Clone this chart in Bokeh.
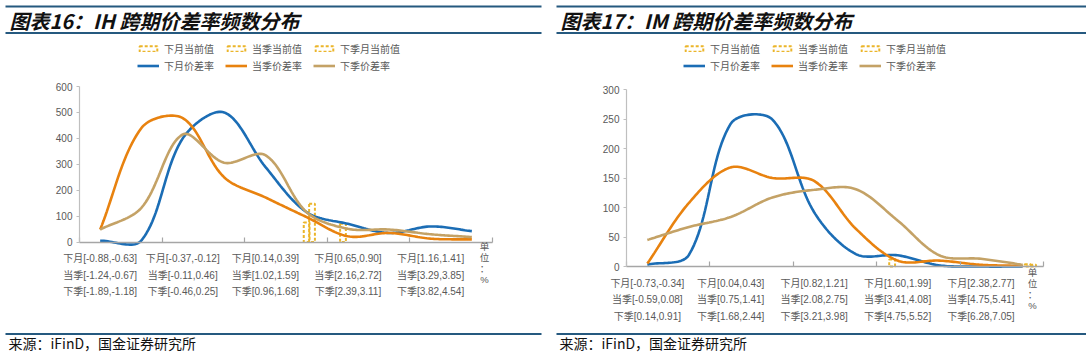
import numpy as np
from bokeh.plotting import figure
from bokeh.models import (Range1d, FixedTicker, Legend, LegendItem, Label, LinearAxis)
from bokeh.layouts import row
from bokeh.embed import file_html
from bokeh.resources import INLINE
from bokeh.core.properties import value

# ---------------- data ----------------
ih_title = "图表16：IH 跨期价差率频数分布"
im_title = "图表17：IM 跨期价差率频数分布"
source_text = "来源：iFinD，国金证券研究所"
unit_text = "单\n位\n：\n%"

series_names = ["下月价差率", "当季价差率", "下季价差率"]
current_names = ["下月当前值", "当季当前值", "下季月当前值"]

ih_tick_labels = [
    "下月[-0.88,-0.63]\n当季[-1.24,-0.67]\n下季[-1.89,-1.18]",
    "下月[-0.37,-0.12]\n当季[-0.11,0.46]\n下季[-0.46,0.25]",
    "下月[0.14,0.39]\n当季[1.02,1.59]\n下季[0.96,1.68]",
    "下月[0.65,0.90]\n当季[2.16,2.72]\n下季[2.39,3.11]",
    "下月[1.16,1.41]\n当季[3.29,3.85]\n下季[3.82,4.54]",
]
ih_next_month = [5, 6, 400, 500, 290, 115, 70, 35, 60, 42]
ih_cur_quarter = [48, 440, 478, 250, 172, 96, 22, 35, 13, 10]
ih_next_quarter = [48, 132, 415, 306, 335, 115, 51, 48, 30, 19]
ih_current_bin = [5.5, 5.63, 6.38]
ih_current_height = [75, 148, 70]
ih_yticks = [0, 100, 200, 300, 400, 500, 600]

im_tick_labels = [
    "下月[-0.73,-0.34]\n当季[-0.59,0.08]\n下季[0.14,0.91]",
    "下月[0.04,0.43]\n当季[0.75,1.41]\n下季[1.68,2.44]",
    "下月[0.82,1.21]\n当季[2.08,2.75]\n下季[3.21,3.98]",
    "下月[1.60,1.99]\n当季[3.41,4.08]\n下季[4.75,5.52]",
    "下月[2.38,2.77]\n当季[4.75,5.41]\n下季[6.28,7.05]",
]
im_next_month = [3, 20, 242, 249, 92, 21, 19, 2, 0, 0]
im_cur_quarter = [5, 108, 168, 150, 145, 64, 10, 10, 3, 1]
im_next_quarter = [45, 67, 84, 117, 130, 131, 78, 19, 13, 3]
im_current_bin = [6.37, 9.62, 9.75]
im_current_height = [12, 4, 3]
im_yticks = [0, 50, 100, 150, 200, 250, 300]

# ---------------- style ----------------
BLUE = "#1B6DB5"
ORANGE = "#E8820F"
TAN = "#C4A266"
YELLOW = "#EBB52A"
RULE = "#25597F"
GRAY = "#A6A6A6"
TXT = "#595959"
CJK = "Liberation Sans, Noto Sans CJK SC"
H = 355


def excel_smooth(xs, ys, sx, sy, n=24):
    pts = np.column_stack([np.asarray(xs, float) * sx, np.asarray(ys, float) * sy])
    out = [pts[0]]
    N = len(pts)
    for i in range(N - 1):
        p0 = pts[i - 1] if i > 0 else pts[i]
        p1 = pts[i]
        p2 = pts[i + 1]
        p3 = pts[i + 2] if i + 2 < N else pts[i + 1]
        d01 = np.linalg.norm(p1 - p0)
        d12 = np.linalg.norm(p2 - p1)
        d23 = np.linalg.norm(p3 - p2)
        f1 = d12 / (d01 + d12) if d01 + d12 > 0 else 0
        f2 = d12 / (d12 + d23) if d12 + d23 > 0 else 0
        c1 = p1 + (p2 - p0) * f1 / 3
        c2 = p2 - (p3 - p1) * f2 / 3
        t = np.linspace(0, 1, n)[1:, None]
        b = (1 - t) ** 3 * p1 + 3 * (1 - t) ** 2 * t * c1 + 3 * (1 - t) * t ** 2 * c2 + t ** 3 * p2
        out.extend(b)
    out = np.array(out)
    return out[:, 0] / sx, out[:, 1] / sy


def panel(W, title, title_x, rule_x0, rule_x1, tick_labels, lines, cur_bin, cur_h,
          yticks, frame_px, unit_px, legend_x):
    # frame_px: pixel box of the chart area (left, right, top, bottom)
    fl, fr, ft, fb = frame_px
    ymax = yticks[-1]
    sx = (fr - fl) / 10.0
    sy = (fb - ft) / float(ymax)
    X = lambda px: (px - fl) / sx
    Y = lambda py: (fb - py) / sy

    p = figure(width=W, height=H, x_range=Range1d(X(0), X(W)), y_range=Range1d(Y(H), Y(0)),
               min_border=0, toolbar_location=None, output_backend="svg",
               x_axis_type=None, y_axis_type=None, outline_line_color=None)
    p.grid.visible = False

    # header / footer decorations
    p.segment(x0=[X(rule_x0)] * 3, y0=[Y(6), Y(32.5), Y(333.5)],
              x1=[X(rule_x1)] * 3, y1=[Y(6), Y(32.5), Y(333.5)],
              line_color=RULE, line_width=2)
    p.text(x=[X(title_x)], y=[Y(20)], text=[title], text_baseline="middle",
           text_font=value("Noto Sans CJK SC"), text_font_size="20px",
           text_font_style="bold italic", text_color="#111111")
    p.text(x=[X(title_x - 1)], y=[Y(342.5)], text=[source_text], text_baseline="middle",
           text_font=value("Noto Sans CJK SC"), text_font_size="14px", text_color="#111111")

    xs = np.arange(10) + 0.5
    bars = []
    for i in range(3):
        r = p.vbar(x=[cur_bin[i]], top=[cur_h[i]], bottom=0, width=0.14,
                   fill_alpha=0, line_color=YELLOW, line_width=2, line_dash="3 2")
        bars.append(r)
    lrs = []
    for ys, col in zip(lines, [BLUE, ORANGE, TAN]):
        sxs, sys_ = excel_smooth(xs, ys, sx, sy)
        r = p.line(sxs, sys_, line_color=col, line_width=2.6)
        lrs.append(r)

    items = [LegendItem(label=current_names[i], renderers=[bars[i]]) for i in range(3)]
    items += [LegendItem(label=series_names[i], renderers=[lrs[i]]) for i in range(3)]
    leg = Legend(items=items, orientation="horizontal", ncols=3,
                 location=(legend_x, H - 73),
                 glyph_width=22, glyph_height=7, label_standoff=5, spacing=2,
                 label_width=59,
                 label_text_font=CJK, label_text_font_size="10px",
                 label_text_color=TXT, label_height=12, padding=0, margin=0,
                 background_fill_alpha=0, border_line_alpha=0)
    p.add_layout(leg, "center")

    xaxis = LinearAxis(ticker=FixedTicker(ticks=[0.5, 2.5, 4.5, 6.5, 8.5],
                                          minor_ticks=[0, 2, 4, 6, 8, 10]),
                       major_label_overrides={0.5: tick_labels[0], 2.5: tick_labels[1],
                                              4.5: tick_labels[2], 6.5: tick_labels[3],
                                              8.5: tick_labels[4]},
                       bounds=(0, 10), fixed_location=0,
                       axis_line_color=GRAY, axis_line_width=1.3,
                       major_tick_in=0, major_tick_out=0,
                       minor_tick_in=5, minor_tick_out=0, minor_tick_line_color=GRAY,
                       minor_tick_line_width=1.2,
                       major_label_text_font=CJK, major_label_text_font_size="10px",
                       major_label_text_color=TXT, major_label_text_line_height=1.5,
                       major_label_standoff=11)
    p.add_layout(xaxis, "below")
    yaxis = LinearAxis(ticker=FixedTicker(ticks=yticks, minor_ticks=[]),
                       bounds=(0, ymax), fixed_location=0,
                       axis_line_color="#BFBFBF", axis_line_width=1.2,
                       major_tick_in=0, major_tick_out=3, major_tick_line_color="#BFBFBF",
                       minor_tick_out=0, minor_tick_in=0,
                       major_label_text_font=CJK, major_label_text_font_size="10px",
                       major_label_text_color=TXT, major_label_standoff=4)
    p.add_layout(yaxis, "left")

    p.add_layout(Label(x=X(unit_px[0]), y=Y(unit_px[1]), text=unit_text, text_align="center",
                       text_baseline="top", text_font_size="9.5px",
                       text_font=CJK, text_color=TXT, text_line_height=1.0))
    return p


left = panel(545, ih_title, 9, 5, 541, ih_tick_labels,
             [ih_next_month, ih_cur_quarter, ih_next_quarter],
             ih_current_bin, ih_current_height, ih_yticks,
             (79, 492, 86, 241.5), (484, 240), 137)
right = panel(541, im_title, 15, 11, 541, im_tick_labels,
              [im_next_month, im_cur_quarter, im_next_quarter],
              im_current_bin, im_current_height, im_yticks,
              (81, 498, 89, 266), (487, 266), 138)

layout = row(left, right, spacing=0)
open("out.html", "w").write(file_html(layout, INLINE))
